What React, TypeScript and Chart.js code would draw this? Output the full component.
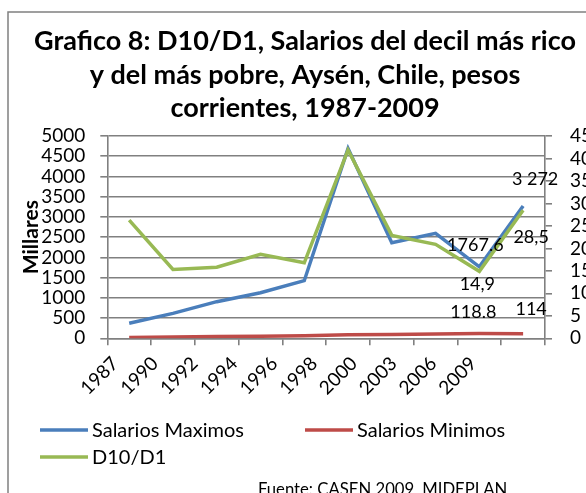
import React, { useEffect, useRef } from "react";
import { Chart, registerables } from "chart.js";

Chart.register(...registerables);

const YEARS = ["1987", "1990", "1992", "1994", "1996", "1998", "2000", "2003", "2006", "2009"];
const SALARIOS_MAXIMOS = [371, 615, 905, 1127, 1424, 4690, 2363, 2596, 1767.6, 3272];
const SALARIOS_MINIMOS = [20, 32, 42, 52, 66, 86, 96, 108, 118.8, 114];
const D10_D1 = [26.3, 15.3, 15.8, 18.7, 16.8, 41.9, 22.9, 20.9, 14.9, 28.5];

const LABELS_MAX = [null, null, null, null, null, null, null, null, "1767.6", "3 272"];
const LABELS_MIN = [null, null, null, null, null, null, null, null, "118.8", "114"];
const LABELS_RATIO = [null, null, null, null, null, null, null, null, "14,9", "28,5"];

const TITLE_LINES = [
  "Grafico 8: D10/D1, Salarios del decil más rico",
  "y del más pobre, Aysén, Chile, pesos",
  "corrientes, 1987-2009",
];
const Y_TITLE = "Millares";
const SOURCE = "Fuente: CASEN 2009, MIDEPLAN";

const FONT = "Lato, 'Open Sans', sans-serif";
const GRID = "#808080";

const decorPlugin = {
  id: "decor",
  afterDraw(chart: any) {
    const ctx = chart.ctx;
    const ca = chart.chartArea;
    ctx.save();
    // frame
    ctx.strokeStyle = GRID;
    ctx.lineWidth = 1.5;
    ctx.strokeRect(8, 12, 1000, 1000);
    // title
    ctx.fillStyle = "#000";
    ctx.font = `bold 27px ${FONT}`;
    ctx.textAlign = "center";
    ctx.textBaseline = "alphabetic";
    TITLE_LINES.forEach((t, i) => ctx.fillText(t, 305, 50 + i * 33.5));
    // y title
    ctx.save();
    ctx.translate(31, (ca.top + ca.bottom) / 2);
    ctx.rotate(-Math.PI / 2);
    ctx.font = `bold 21px ${FONT}`;
    ctx.textBaseline = "middle";
    ctx.fillText(Y_TITLE, 0, 0);
    ctx.restore();
    // legend
    const ds = chart.data.datasets;
    const pos = [
      [40, 430],
      [305, 430],
      [40, 457],
    ];
    ctx.font = `20px ${FONT}`;
    ctx.textAlign = "left";
    ctx.textBaseline = "middle";
    ds.forEach((d: any, i: number) => {
      const [x, yy] = pos[i];
      ctx.strokeStyle = d.borderColor;
      ctx.lineWidth = 3.5;
      ctx.beginPath();
      ctx.moveTo(x, yy);
      ctx.lineTo(x + 48, yy);
      ctx.stroke();
      ctx.fillStyle = "#000";
      ctx.fillText(d.label, x + 52, yy + 1);
    });
    // source
    ctx.font = `16.7px ${FONT}`;
    ctx.textBaseline = "alphabetic";
    ctx.fillText(SOURCE, 258, 495);
    // data labels
    const offsets: any = {
      0: { 8: [-4, -22], 9: [12, -27] },
      1: { 8: [-6, -21], 9: [8, -25] },
      2: { 8: [-2, 13], 9: [8, 27] },
    };
    const labelSets = [LABELS_MAX, LABELS_MIN, LABELS_RATIO];
    ctx.font = `18px ${FONT}`;
    ctx.textAlign = "center";
    ctx.textBaseline = "middle";
    ctx.fillStyle = "#000";
    labelSets.forEach((labels, di) => {
      const meta = chart.getDatasetMeta(di);
      labels.forEach((l, i) => {
        if (!l) return;
        const el = meta.data[i];
        const off = offsets[di][i] || [0, 0];
        ctx.fillText(l, el.x + off[0], el.y + off[1]);
      });
    });
    ctx.restore();
  },
};

export default function App() {
  const ref = useRef<HTMLCanvasElement>(null);
  useEffect(() => {
    const chart = new Chart(ref.current!, {
      type: "line",
      data: {
        labels: YEARS,
        datasets: [
          {
            label: "Salarios Maximos",
            data: SALARIOS_MAXIMOS,
            borderColor: "#4A7EBB",
            backgroundColor: "#4A7EBB",
            borderWidth: 3.5,
            pointRadius: 0,
            fill: false,
            xAxisID: "x",
            yAxisID: "y",
            order: 2,
          },
          {
            label: "Salarios Minimos",
            data: SALARIOS_MINIMOS,
            borderColor: "#BE4B48",
            backgroundColor: "#BE4B48",
            borderWidth: 3.5,
            pointRadius: 0,
            fill: false,
            xAxisID: "x",
            yAxisID: "y",
            order: 1,
          },
          {
            label: "D10/D1",
            data: D10_D1,
            borderColor: "#98B954",
            backgroundColor: "#98B954",
            borderWidth: 3.5,
            pointRadius: 0,
            fill: false,
            xAxisID: "x",
            yAxisID: "y2",
            order: 0,
          },
        ],
      },
      options: {
        animation: false,
        responsive: false,
        devicePixelRatio: 1,
        layout: { padding: { left: 8, right: 35, top: 136, bottom: 94.7 } },
        plugins: { legend: { display: false }, title: { display: false }, tooltip: { enabled: false } },
        scales: {
          x: {
            offset: true,
            weight: 0,
            grid: { offset: true, drawOnChartArea: false, color: GRID, lineWidth: 1.6, tickLength: 7 },
            border: { color: GRID, width: 1.6 },
            ticks: { display: false, autoSkip: false },
            afterFit: (s: any) => { s.height = 7; },
          },
          xLabels: {
            type: "category",
            position: "bottom",
            labels: [...YEARS, ""],
            offset: true,
            weight: 1,
            grid: { display: false, drawTicks: false },
            border: { display: false },
            ticks: {
              color: "#000",
              font: { family: FONT, size: 19 },
              maxRotation: 45,
              minRotation: 45,
              padding: 7,
              labelOffset: -12,
              autoSkip: false,
            },
            afterFit: (s: any) => { s.height = 80; },
          },
          y: {
            position: "left",
            min: 0,
            max: 5000,
            ticks: {
              stepSize: 500,
              color: "#000",
              font: { family: FONT, size: 19 },
              padding: 15,
              autoSkip: false,
              callback: (v: any) => String(v),
            },
            grid: { color: GRID, lineWidth: 1.6, tickLength: 7, drawOnChartArea: true },
            border: { color: GRID, width: 1.6 },
            afterFit: (s: any) => { s.width = 99.3; },
          },
          y2: {
            position: "right",
            min: 0,
            max: 45,
            ticks: {
              stepSize: 5,
              color: "#000",
              font: { family: FONT, size: 19 },
              padding: 18,
              autoSkip: false,
              callback: (v: any) => String(v),
            },
            grid: { drawOnChartArea: false, color: GRID, lineWidth: 1.6, tickLength: 7 },
            border: { color: GRID, width: 1.6 },
            afterFit: (s: any) => { s.width = 60; },
          },
        },
      },
      plugins: [decorPlugin],
    });
    return () => chart.destroy();
  }, []);
  return (
    <div style={{ position: "fixed", left: 0, top: 0, width: 586, height: 493, overflow: "hidden", background: "#fff" }}>
      <canvas ref={ref} width={640} height={520} style={{ width: 640, height: 520, display: "block" }} />
    </div>
  );
}
